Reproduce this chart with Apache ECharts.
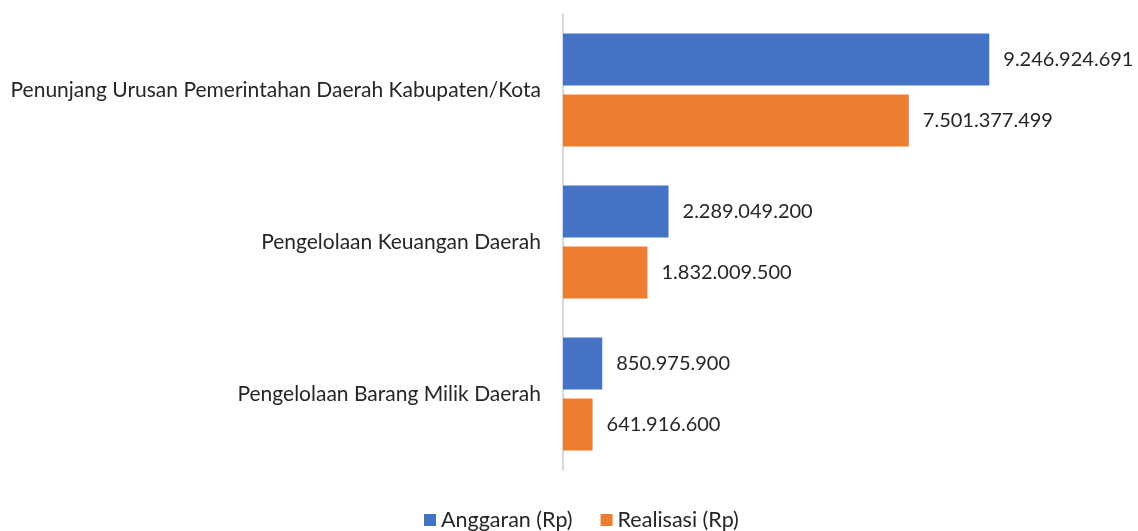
<!DOCTYPE html>
<html>
<head>
<meta charset="utf-8">
<script src="https://cdn.jsdelivr.net/npm/echarts@6/dist/echarts.min.js"></script>
<style>
  html, body { margin: 0; padding: 0; background: #fff; }
  #chart { width: 1138px; height: 531px; }
</style>
</head>
<body>
<div id="chart"></div>
<script type="text/javascript">
	// data
	var categories = [
		'Penunjang Urusan Pemerintahan Daerah Kabupaten/Kota',
		'Pengelolaan Keuangan Daerah',
		'Pengelolaan Barang Milik Daerah'
	];
	var seriesNames = ['Anggaran (Rp)', 'Realisasi (Rp)'];
	var anggaran = [9246924691, 2289049200, 850975900];
	var realisasi = [7501377499, 1832009500, 641916600];

	var FONT = 'Lato';
	var TEXT = '#262626';

	function fmt(v){
		return String(v).replace(/\B(?=(\d{3})+(?!\d))/g, '.');
	}

	var chart = echarts.init(document.getElementById('chart'));
	var option = {
		animation: false,
		textStyle: {fontFamily: FONT},
		grid: {left: 563, top: 14, bottom: 61, right: 114, containLabel: false},
		legend: {
			top: 509,
			left: 424,
			padding: 0,
			itemWidth: 12,
			itemHeight: 12,
			itemGap: 28,
			icon: 'rect',
			textStyle: {fontFamily: FONT, fontSize: 21.5, lineHeight: 22, color: TEXT},
			data: seriesNames
		},
		xAxis: {
			type: 'value',
			min: 0,
			max: 10000000000,
			show: false
		},
		yAxis: {
			type: 'category',
			inverse: true,
			data: categories,
			axisTick: {show: false},
			axisLine: {lineStyle: {color: '#d9d9d9', width: 2}},
			axisLabel: {fontFamily: FONT, fontSize: 21, color: TEXT, margin: 22}
		},
		series: [
			{
				name: seriesNames[0],
				type: 'bar',
				data: anggaran,
				barWidth: 52,
				barGap: '17%',
				itemStyle: {color: '#4472c4'},
				label: {show: true, position: 'right', distance: 14, fontSize: 20, fontFamily: FONT, color: TEXT,
					formatter: function(p){ return fmt(p.value); }}
			},
			{
				name: seriesNames[1],
				type: 'bar',
				data: realisasi,
				barWidth: 52,
				barGap: '17%',
				itemStyle: {color: '#ed7d31'},
				label: {show: true, position: 'right', distance: 14, fontSize: 20, fontFamily: FONT, color: TEXT,
					formatter: function(p){ return fmt(p.value); }}
			}
		]
	};
	chart.setOption(option);
</script>
</body>
</html>
